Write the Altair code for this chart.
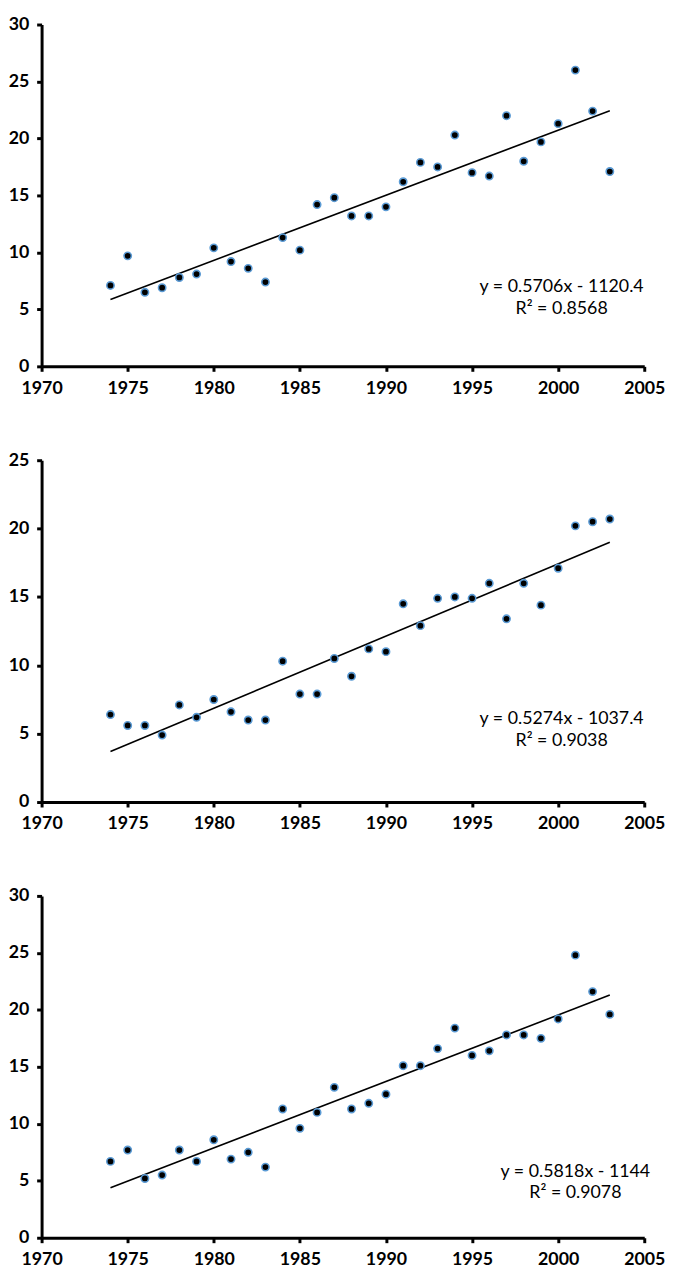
import altair as alt
import pandas as pd

years = list(range(1974, 2004))

series_a = [7.1, 9.7, 6.5, 6.9, 7.8, 8.1, 10.4, 9.2, 8.6, 7.4,
            11.3, 10.2, 14.2, 14.8, 13.2, 13.2, 14.0, 16.2, 17.9, 17.5,
            20.3, 17.0, 16.7, 22.0, 18.0, 19.7, 21.3, 26.0, 22.4, 17.1]

series_b = [6.4, 5.6, 5.6, 4.9, 7.1, 6.2, 7.5, 6.6, 6.0, 6.0,
            10.3, 7.9, 7.9, 10.5, 9.2, 11.2, 11.0, 14.5, 12.9, 14.9,
            15.0, 14.9, 16.0, 13.4, 16.0, 14.4, 17.1, 20.2, 20.5, 20.7]

series_c = [6.7, 7.7, 5.2, 5.5, 7.7, 6.7, 8.6, 6.9, 7.5, 6.2,
            11.3, 9.6, 11.0, 13.2, 11.3, 11.8, 12.6, 15.1, 15.1, 16.6,
            18.4, 16.0, 16.4, 17.8, 17.8, 17.5, 19.2, 24.8, 21.6, 19.6]

y_max = [30, 25, 30]
eq_texts = ["y = 0.5706x - 1120.4", "y = 0.5274x - 1037.4", "y = 0.5818x - 1144"]
r2_texts = ["R\u00b2 = 0.8568", "R\u00b2 = 0.9038", "R\u00b2 = 0.9078"]
x_ticks = [1970, 1975, 1980, 1985, 1990, 1995, 2000, 2005]

W = 610
H = 346


def panel(values, ymax, eq, r2, tx, ty_eq, ty_r2):
    df = pd.DataFrame({"year": years, "value": values})
    xenc = alt.X("year:Q",
                 scale=alt.Scale(domain=[1970, 2005], nice=False, zero=False),
                 axis=alt.Axis(values=x_ticks, format="d", title=None,
                               labelFlush=False, labelPadding=8))
    yenc = alt.Y("value:Q",
                 scale=alt.Scale(domain=[0, ymax], nice=False),
                 axis=alt.Axis(values=list(range(0, ymax + 1, 5)), title=None,
                               labelPadding=8))
    base = alt.Chart(df)
    line = base.transform_regression("year", "value").mark_line(
        color="black", strokeWidth=1.6
    ).encode(x=xenc, y=yenc)
    pts = base.mark_circle(color="black", opacity=1, size=55,
                           stroke="#5B9BD5", strokeWidth=1.6).encode(x=xenc, y=yenc)
    tdf = pd.DataFrame({"t": [eq]})
    t1 = alt.Chart(tdf).mark_text(font="Lato", fontSize=18, color="black",
                                  align="center", baseline="middle").encode(
        x=alt.datum(tx), y=alt.datum(ty_eq), text="t:N")
    rdf = pd.DataFrame({"t": [r2]})
    t2 = alt.Chart(rdf).mark_text(font="Lato", fontSize=18, color="black",
                                  align="center", baseline="middle").encode(
        x=alt.datum(tx), y=alt.datum(ty_r2), text="t:N")
    return alt.layer(line, pts, t1, t2).properties(width=W, height=H)


p1 = panel(series_a, y_max[0], eq_texts[0], r2_texts[0], 2000.2, 7.0, 5.05)
p2 = panel(series_b, y_max[1], eq_texts[1], r2_texts[1], 2000.2, 6.1, 4.45)
p3 = panel(series_c, y_max[2], eq_texts[2], r2_texts[2], 2001.0, 5.8, 3.9)

chart = alt.vconcat(p1, p2, p3, spacing=55).properties(
    padding=0
).configure_view(stroke=None).configure_axis(
    grid=False,
    domainColor="black",
    domainWidth=3,
    tickColor="black",
    tickWidth=3,
    tickSize=5,
    labelFont="Lato",
    labelFontWeight="bold",
    labelFontSize=18,
    labelColor="black",
)

chart.save("out.html", embed_options={"renderer": "svg", "actions": False})
